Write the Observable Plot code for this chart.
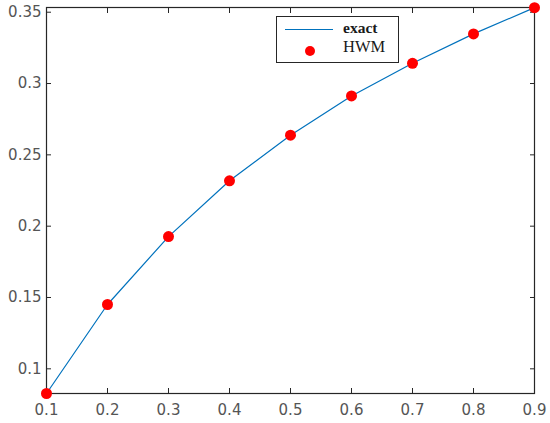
<!DOCTYPE html>
<html>
<head>
<meta charset="utf-8">
<script src="https://cdn.jsdelivr.net/npm/d3@7"></script>
<script src="https://cdn.jsdelivr.net/npm/@observablehq/plot@0.6"></script>
<style>
  html, body { margin: 0; padding: 0; background: #fff; }
  #wrap { position: relative; width: 550px; height: 423px; }
  #legend { position: absolute; left: 276px; top: 16px; width: 123px; height: 47px;
    border: 1px solid #262626; background: #fff; box-sizing: border-box;
    font-family: "Liberation Serif", "Times New Roman", serif; color: #1a1a1a; }
  #legend .sw { position: absolute; left: 8px; top: 12px; width: 48px; height: 1.2px; background: #0072BD; }
  #legend .dot { position: absolute; left: 28px; top: 29px; width: 10px; height: 10px; border-radius: 50%; background: #ff0000; }
  #legend .t1 { position: absolute; left: 66px; top: 2px; font-size: 15.5px; font-weight: 600; line-height: 18px; }
  #legend .t2 { position: absolute; left: 66px; top: 21px; font-size: 16.5px; line-height: 18px; }
</style>
</head>
<body>
<div id="wrap">
  <div id="chart"></div>
  <div id="legend">
    <div class="sw"></div><span class="t1">exact</span>
    <div class="dot"></div><span class="t2">HWM</span>
  </div>
</div>
<script>
const xValues = [0.1, 0.2, 0.3, 0.4, 0.5, 0.6, 0.7, 0.8, 0.9];
const exactValues = [0.0827, 0.1451, 0.1927, 0.2318, 0.2638, 0.2913, 0.3142, 0.3348, 0.3532];
const hwmValues = [0.0827, 0.1451, 0.1927, 0.2318, 0.2638, 0.2913, 0.3142, 0.3348, 0.3532];
const xTicks = [0.1, 0.2, 0.3, 0.4, 0.5, 0.6, 0.7, 0.8, 0.9];
const yTicks = [0.1, 0.15, 0.2, 0.25, 0.3, 0.35];
const xDomain = [0.1, 0.9];
const yDomain = [0.0827, 0.3533];

const exactData = xValues.map((x, i) => ({x, y: exactValues[i]}));
const hwmData = xValues.map((x, i) => ({x, y: hwmValues[i]}));

const axisColor = "#262626";
const labelColor = "#555555";
const tickFont = "DejaVu Sans, Verdana, sans-serif";

const chart = Plot.plot({
  width: 550,
  height: 423,
  marginLeft: 46,
  marginRight: 16,
  marginTop: 7,
  marginBottom: 30,
  style: { fontFamily: tickFont, fontSize: "15px", color: labelColor, background: "#fff" },
  x: { domain: xDomain, ticks: xTicks },
  y: { domain: yDomain, ticks: yTicks },
  marks: [
    Plot.axisX(xTicks, { anchor: "bottom", tickSize: -5, tickPadding: 16, stroke: axisColor, fill: labelColor, fontSize: 15, label: null, tickFormat: d => String(d) }),
    Plot.axisX(xTicks, { anchor: "top", tickSize: -5, stroke: axisColor, label: null, tickFormat: () => "" }),
    Plot.axisY(yTicks, { anchor: "left", tickSize: -5, tickPadding: 10, stroke: axisColor, fill: labelColor, fontSize: 15, label: null, tickFormat: d => String(d) }),
    Plot.axisY(yTicks, { anchor: "right", tickSize: -5, stroke: axisColor, label: null, tickFormat: () => "" }),
    Plot.frame({ stroke: axisColor, strokeWidth: 1.2 }),
    Plot.line(exactData, { x: "x", y: "y", stroke: "#0072BD", strokeWidth: 1.2 }),
    Plot.dot(hwmData, { x: "x", y: "y", r: 5.5, fill: "#ff0000", stroke: "none" })
  ]
});
document.getElementById("chart").appendChild(chart);
</script>
</body>
</html>
